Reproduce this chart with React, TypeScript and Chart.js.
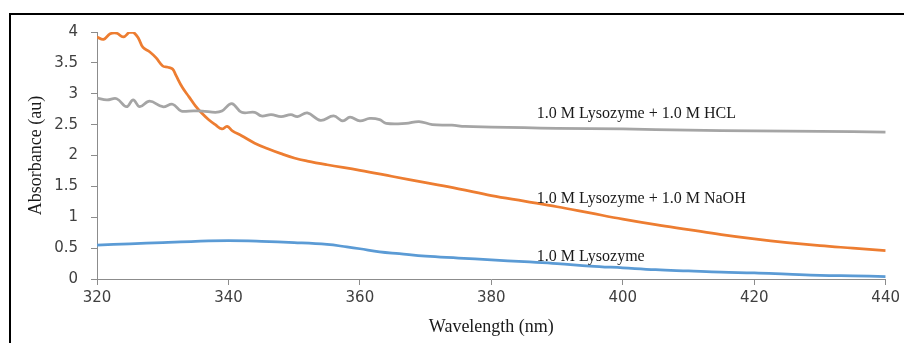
import React, { useEffect, useRef } from "react";
import { Chart, registerables } from "chart.js";

Chart.register(...registerables);

// Wavelength (nm) / absorbance values per series
const naohWl = [320, 321, 322, 323, 324, 325, 325.6, 326.3, 327, 328, 329, 330, 330.8, 331.5, 332, 333, 334, 335, 336, 337, 338, 339, 339.8, 340.6, 342, 344, 346, 348, 350, 352, 355, 360, 365, 370, 375, 380, 385, 390, 395, 400, 405, 410, 415, 420, 425, 430, 435, 440];
const naohAbs = [3.92, 3.88, 3.97, 3.98, 3.92, 4.0, 3.99, 3.9, 3.75, 3.68, 3.58, 3.45, 3.43, 3.4, 3.3, 3.1, 2.95, 2.8, 2.68, 2.58, 2.5, 2.43, 2.47, 2.4, 2.32, 2.2, 2.11, 2.03, 1.96, 1.91, 1.85, 1.76, 1.66, 1.56, 1.46, 1.35, 1.26, 1.17, 1.07, 0.97, 0.88, 0.8, 0.72, 0.65, 0.59, 0.54, 0.5, 0.46];

const hclWl = [320, 321.5, 323, 324.5, 325.5, 326.5, 328, 330, 331.5, 332.8, 334, 336, 338, 339, 340.5, 342, 344, 345, 346.5, 348, 349.5, 350.5, 352, 354, 356, 357.4, 358.5, 360, 361.5, 363, 364, 367, 369, 371, 374, 376, 380, 385, 390, 400, 410, 420, 430, 440];
const hclAbs = [2.93, 2.9, 2.92, 2.79, 2.9, 2.79, 2.88, 2.79, 2.83, 2.72, 2.72, 2.72, 2.7, 2.72, 2.84, 2.7, 2.7, 2.64, 2.66, 2.63, 2.66, 2.63, 2.69, 2.57, 2.64, 2.56, 2.62, 2.56, 2.6, 2.58, 2.52, 2.52, 2.55, 2.5, 2.49, 2.47, 2.46, 2.45, 2.44, 2.43, 2.41, 2.4, 2.39, 2.38];

const lysoWl = [320, 325, 330, 335, 340, 345, 350, 355, 358, 360, 363, 366, 370, 375, 380, 385, 390, 395, 400, 405, 410, 415, 420, 425, 430, 435, 440];
const lysoAbs = [0.55, 0.57, 0.59, 0.61, 0.62, 0.61, 0.59, 0.56, 0.52, 0.49, 0.44, 0.41, 0.37, 0.34, 0.31, 0.28, 0.25, 0.21, 0.18, 0.15, 0.13, 0.11, 0.1, 0.08, 0.06, 0.05, 0.04];

const seriesNames = ["1.0 M Lysozyme + 1.0 M HCL", "1.0 M Lysozyme + 1.0 M NaOH", "1.0 M Lysozyme"];
const labelWl = [386.9, 386.9, 386.9];
const labelAbs = [2.67, 1.3, 0.36];

const xTicks = [320, 340, 360, 380, 400, 420, 440];

const toPts = (xs: number[], ys: number[]) => xs.map((x, i) => ({ x, y: ys[i] }));

const labelPlugin = {
  id: "seriesLabels",
  afterDatasetsDraw(chart: any) {
    const { ctx, scales } = chart;
    ctx.save();
    ctx.font = "16px 'Liberation Serif', serif";
    ctx.fillStyle = "#1a1a1a";
    ctx.textAlign = "left";
    ctx.textBaseline = "middle";
    seriesNames.forEach((name, i) => {
      ctx.fillText(name, scales.x.getPixelForValue(labelWl[i]), scales.y.getPixelForValue(labelAbs[i]));
    });
    ctx.restore();
  },
};

export default function App() {
  const ref = useRef<HTMLCanvasElement>(null);
  useEffect(() => {
    if (!ref.current) return;
    const chart = new Chart(ref.current, {
      type: "line",
      data: {
        datasets: [
          { data: toPts(hclWl, hclAbs), borderColor: "#a5a5a5", borderWidth: 2.75, pointRadius: 0, tension: 0.4 },
          { data: toPts(naohWl, naohAbs), borderColor: "#ed7d31", borderWidth: 2.75, pointRadius: 0, tension: 0.4 },
          { data: toPts(lysoWl, lysoAbs), borderColor: "#5b9bd5", borderWidth: 2.75, pointRadius: 0, tension: 0.4 },
        ],
      },
      options: {
        responsive: false,
        animation: false,
        layout: { padding: { left: 0, top: 32, right: 17, bottom: 0 } },
        plugins: { legend: { display: false }, tooltip: { enabled: false } },
        scales: {
          x: {
            type: "linear",
            min: 320,
            max: 440,
            afterBuildTicks: (s: any) => { s.ticks = xTicks.map((v) => ({ value: v })); },
            afterFit: (s: any) => { s.height = 64; },
            grid: { drawOnChartArea: false, drawTicks: true, tickLength: 6, color: "#8c8c8c" },
            border: { color: "#8c8c8c", width: 1 },
            ticks: { padding: 4, color: "#404040", font: { family: "'DejaVu Sans', sans-serif", size: 15 }, maxRotation: 0, callback: (v: any) => String(v) },
            title: { display: true, text: "Wavelength (nm)", color: "#1a1a1a", font: { family: "'Liberation Serif', serif", size: 18 }, padding: { top: 0, bottom: 5 } },
          },
          y: {
            min: 0,
            max: 4,
            ticks: { stepSize: 0.5, padding: 13, color: "#404040", font: { family: "'DejaVu Sans', sans-serif", size: 15 }, callback: (v: any) => String(Number(v)) },
            afterFit: (s: any) => { s.width = 97; },
            grid: { drawOnChartArea: false, drawTicks: true, tickLength: 6, color: "#8c8c8c" },
            border: { color: "#8c8c8c", width: 1 },
            title: { display: true, text: "Absorbance (au)", color: "#1a1a1a", font: { family: "'Liberation Serif', serif", size: 18 }, padding: { top: 25, bottom: 0 } },
          },
        },
      },
      plugins: [labelPlugin],
    } as any);
    return () => chart.destroy();
  }, []);

  return (
    <div style={{ position: "absolute", left: 0, top: 0, width: 904, height: 343, background: "#fff", overflow: "hidden" }}>
      <div style={{ position: "absolute", left: 9, top: 13, right: 0, bottom: 0, borderTop: "2px solid #000", borderLeft: "2px solid #000" }} />
      <canvas ref={ref} width={904} height={343} style={{ position: "absolute", left: 0, top: 0, width: 904, height: 343 }} />
    </div>
  );
}
